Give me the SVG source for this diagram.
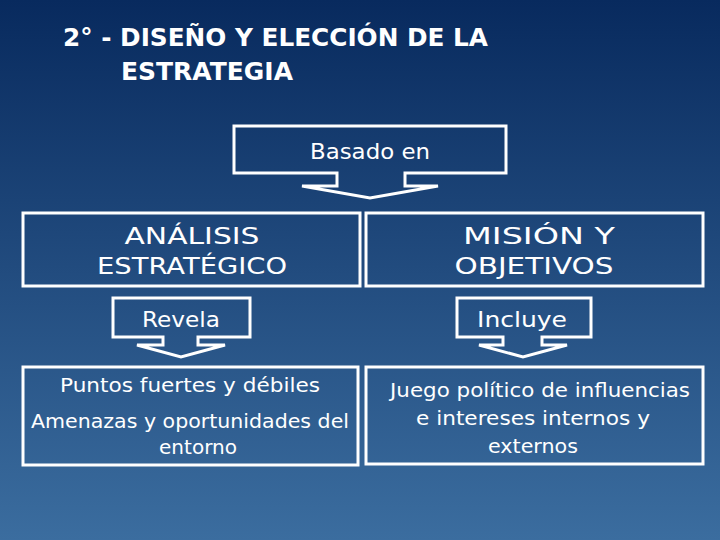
<svg xmlns="http://www.w3.org/2000/svg" width="720" height="540" viewBox="0 0 720 540">
<defs>
<linearGradient id="bg" x1="0" y1="0" x2="0" y2="1">
<stop offset="0" stop-color="#082a5e"/>
<stop offset="1" stop-color="#3b6d9f"/>
</linearGradient>
<style>
.box{fill:none;stroke:#fff;stroke-width:3}
.t{fill:#fff;font-family:"Comic Sans MS","DejaVu Sans",sans-serif;text-anchor:middle}
.h{fill:#fff;font-family:"DejaVu Sans",Verdana,sans-serif;font-weight:bold}
</style>
</defs>
<rect width="720" height="540" fill="url(#bg)"/>
<g id="title">
<text class="h" x="63" y="46" font-size="25" textLength="425" lengthAdjust="spacingAndGlyphs">2° - DISEÑO Y ELECCIÓN DE LA</text>
<text class="h" x="121" y="80" font-size="25" textLength="172" lengthAdjust="spacingAndGlyphs">ESTRATEGIA</text>
</g>
<g id="basado">
<path class="box" d="M234,126 H506 V173 H405 V186 H438 L370,198 L302,186 H337 V173 H234 Z"/>
<text class="t" x="370" y="159" font-size="22" textLength="120" lengthAdjust="spacingAndGlyphs">Basado en</text>
</g>
<g id="analisis">
<rect class="box" x="23" y="213" width="337" height="73"/>
<text class="t" x="192" y="244" font-size="23" textLength="135" lengthAdjust="spacingAndGlyphs">ANÁLISIS</text>
<text class="t" x="192" y="274" font-size="23" textLength="190" lengthAdjust="spacingAndGlyphs">ESTRATÉGICO</text>
</g>
<g id="mision">
<rect class="box" x="366" y="213" width="337" height="73"/>
<text class="t" x="539" y="244" font-size="23" textLength="152" lengthAdjust="spacingAndGlyphs">MISIÓN  Y</text>
<text class="t" x="534" y="274" font-size="23" textLength="159" lengthAdjust="spacingAndGlyphs">OBJETIVOS</text>
</g>
<g id="revela">
<path class="box" d="M113,298 H250 V337 H198 V345 H225 L181,357 L137,345 H163 V337 H113 Z"/>
<text class="t" x="181" y="327" font-size="22" textLength="78" lengthAdjust="spacingAndGlyphs">Revela</text>
</g>
<g id="incluye">
<path class="box" d="M457,298 H591 V337 H542 V345 H567 L523,357 L479,345 H503 V337 H457 Z"/>
<text class="t" x="522" y="327" font-size="22" textLength="90" lengthAdjust="spacingAndGlyphs">Incluye</text>
</g>
<g id="puntos">
<rect class="box" x="23" y="367" width="335" height="98"/>
<text class="t" x="190" y="392" font-size="19" textLength="260" lengthAdjust="spacingAndGlyphs">Puntos fuertes y débiles</text>
<text class="t" x="190" y="428" font-size="19" textLength="318" lengthAdjust="spacingAndGlyphs">Amenazas y oportunidades del</text>
<text class="t" x="198" y="454" font-size="19" textLength="78" lengthAdjust="spacingAndGlyphs">entorno</text>
</g>
<g id="juego">
<rect class="box" x="366" y="367" width="337" height="97"/>
<text class="t" x="540" y="397" font-size="19" textLength="300" lengthAdjust="spacingAndGlyphs">Juego político de influencias</text>
<text class="t" x="533" y="425" font-size="19" textLength="234" lengthAdjust="spacingAndGlyphs">e intereses internos y</text>
<text class="t" x="533" y="453" font-size="19" textLength="90" lengthAdjust="spacingAndGlyphs">externos</text>
</g>
<g id="connectors"></g>
</svg>
